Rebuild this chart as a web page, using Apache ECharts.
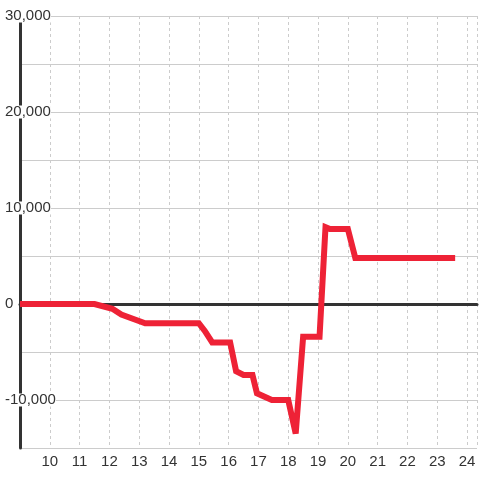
<!DOCTYPE html>
<html>
<head>
<meta charset="utf-8">
<script src="https://cdn.jsdelivr.net/npm/echarts@6/dist/echarts.min.js"></script>
<style>
	html, body { margin: 0; padding: 0; background: #fff; }
	#main { width: 480px; height: 480px; }
</style>
</head>
<body>
<div id="main"></div>
<script>
// 数据
var xValues = [9, 11.5, 12.1, 12.4, 13.2, 15.0, 15.2, 15.45, 16.05, 16.25, 16.5, 16.8, 16.95, 17.45, 18.0, 18.25, 18.5, 19.05, 19.25, 19.4, 20.0, 20.25, 23.6];
var yValues = [0, 0, -500, -1100, -2000, -2000, -2800, -4000, -4000, -7000, -7400, -7400, -9300, -10000, -10000, -13500, -3400, -3400, 8000, 7800, 7800, 4800, 4800];
var xTickLabels = [10, 11, 12, 13, 14, 15, 16, 17, 18, 19, 20, 21, 22, 23, 24];
var yTickLabels = [-10000, 0, 10000, 20000, 30000];

function fmtNum(v) {
	var s = String(Math.abs(v)).replace(/\B(?=(\d{3})+(?!\d))/g, ',');
	return (v < 0 ? '-' : '') + s;
}

var points = [];
for (var i = 0; i < xValues.length; i++) {
	points.push([xValues[i], yValues[i]]);
}

var myChart = echarts.init(document.getElementById('main'));
var option = {
	animation: false,
	grid: {
		left: 20,
		right: 0,
		top: 16,
		bottom: 32,
		containLabel: false
	},
	xAxis: {
		type: 'value',
		min: 9,
		max: 24.333,
		interval: 1,
		axisLine: {
			show: true,
			onZero: true,
			lineStyle: { color: '#333', width: 3 }
		},
		axisTick: { show: false },
		axisLabel: {
			margin: 6,
			color: '#333',
			fontSize: 15,
			fontFamily: 'Liberation Sans, Arial, sans-serif',
			formatter: function (v) {
				return xTickLabels.indexOf(v) >= 0 ? String(v) : '';
			}
		},
		splitLine: {
			show: true,
			lineStyle: { color: '#ccc', type: [3, 3], width: 1 }
		}
	},
	yAxis: {
		type: 'value',
		min: -15000,
		max: 30000,
		interval: 5000,
		axisLine: {
			show: true,
			onZero: false,
			lineStyle: { color: '#333', width: 3 }
		},
		axisTick: { show: false },
		axisLabel: {
			margin: 15,
			align: 'left',
			color: '#333',
			fontSize: 15,
			lineHeight: 13,
			fontFamily: 'Liberation Sans, Arial, sans-serif',
			backgroundColor: '#fff',
			formatter: function (v) {
				return yTickLabels.indexOf(v) >= 0 ? fmtNum(v) : '';
			}
		},
		splitLine: {
			show: true,
			lineStyle: { color: '#ccc', width: 1 }
		}
	},
	series: [{
		type: 'line',
		data: points,
		symbol: 'none',
		lineStyle: { color: '#ee2236', width: 6, join: 'miter', miterLimit: 2, cap: 'butt' }
	}]
};
myChart.setOption(option);
</script>
</body>
</html>
